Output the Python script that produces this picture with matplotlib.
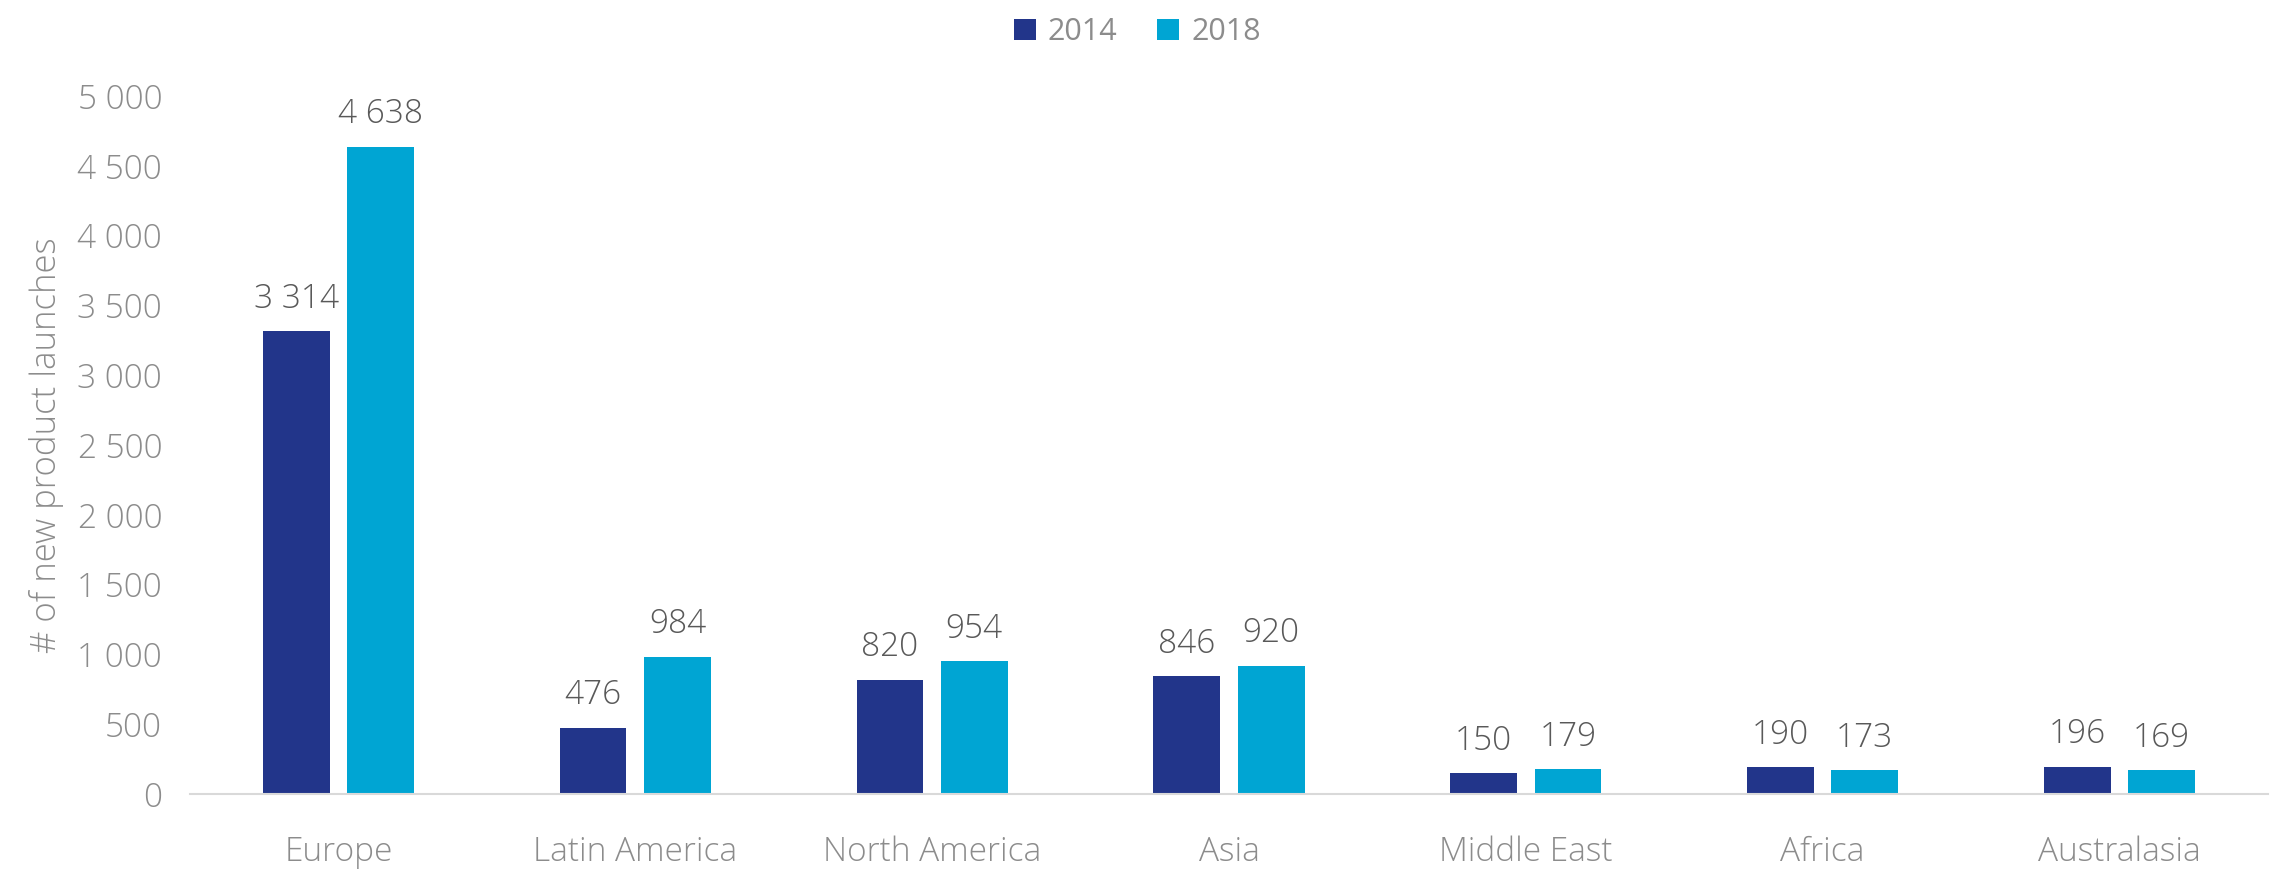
import matplotlib
matplotlib.use("Agg")
import matplotlib.pyplot as plt
import numpy as np
from matplotlib.ticker import FuncFormatter, MultipleLocator

regions = ["Europe", "Latin America", "North America", "Asia",
           "Middle East", "Africa", "Australasia"]
launches_2014 = [3314, 476, 820, 846, 150, 190, 196]
launches_2018 = [4638, 984, 954, 920, 179, 173, 169]
series_labels = ["2014", "2018"]

color_2014 = "#22358A"
color_2018 = "#00A5D3"
tick_gray = "#8C8C8C"
label_gray = "#595959"

plt.rcParams["font.family"] = ["Open Sans", "DejaVu Sans"]

fig = plt.figure(figsize=(22.75, 8.69), dpi=100)
ax = fig.add_axes([0.0835, 0.0863, 0.9134, 0.8032])

x = np.arange(len(regions))
width = 0.225
offset = 0.142

bars_a = ax.bar(x - offset, launches_2014, width, color=color_2014, label=series_labels[0])
bars_b = ax.bar(x + offset, launches_2018, width, color=color_2018, label=series_labels[1])

def fmt(v):
    return f"{int(v):,}".replace(",", " ")

for bars in (bars_a, bars_b):
    for b in bars:
        ax.annotate(fmt(b.get_height()),
                    (b.get_x() + b.get_width() / 2, b.get_height()),
                    xytext=(0, 11), textcoords="offset points",
                    ha="center", va="bottom", fontsize=24,
                    fontweight="light", color=label_gray)

ax.set_xlim(-0.5, len(regions) - 0.5)
ax.set_ylim(0, 5000)
ax.yaxis.set_major_locator(MultipleLocator(500))
ax.yaxis.set_major_formatter(FuncFormatter(lambda v, p: fmt(v)))

ax.set_xticks(x)
ax.set_xticklabels(regions)
ax.tick_params(axis="both", length=0, labelsize=24, labelcolor=tick_gray)
ax.tick_params(axis="x", pad=30)
ax.tick_params(axis="y", pad=20)
for lbl in ax.get_xticklabels() + ax.get_yticklabels():
    lbl.set_fontweight("light")

for side in ("top", "right", "left"):
    ax.spines[side].set_visible(False)
ax.spines["bottom"].set_color("#D9D9D9")
ax.spines["bottom"].set_linewidth(1.5)

ax.set_ylabel("# of new product launches", fontsize=25, color=tick_gray,
              fontweight="light", labelpad=10)

fig.legend(loc="upper center", bbox_to_anchor=(0.5, 1.012), ncol=2,
           frameon=False, fontsize=22, handlelength=0.7, handleheight=0.7,
           handletextpad=0.4, columnspacing=1.3, labelcolor=tick_gray)

fig.savefig("out.png", dpi=100, facecolor="white")
